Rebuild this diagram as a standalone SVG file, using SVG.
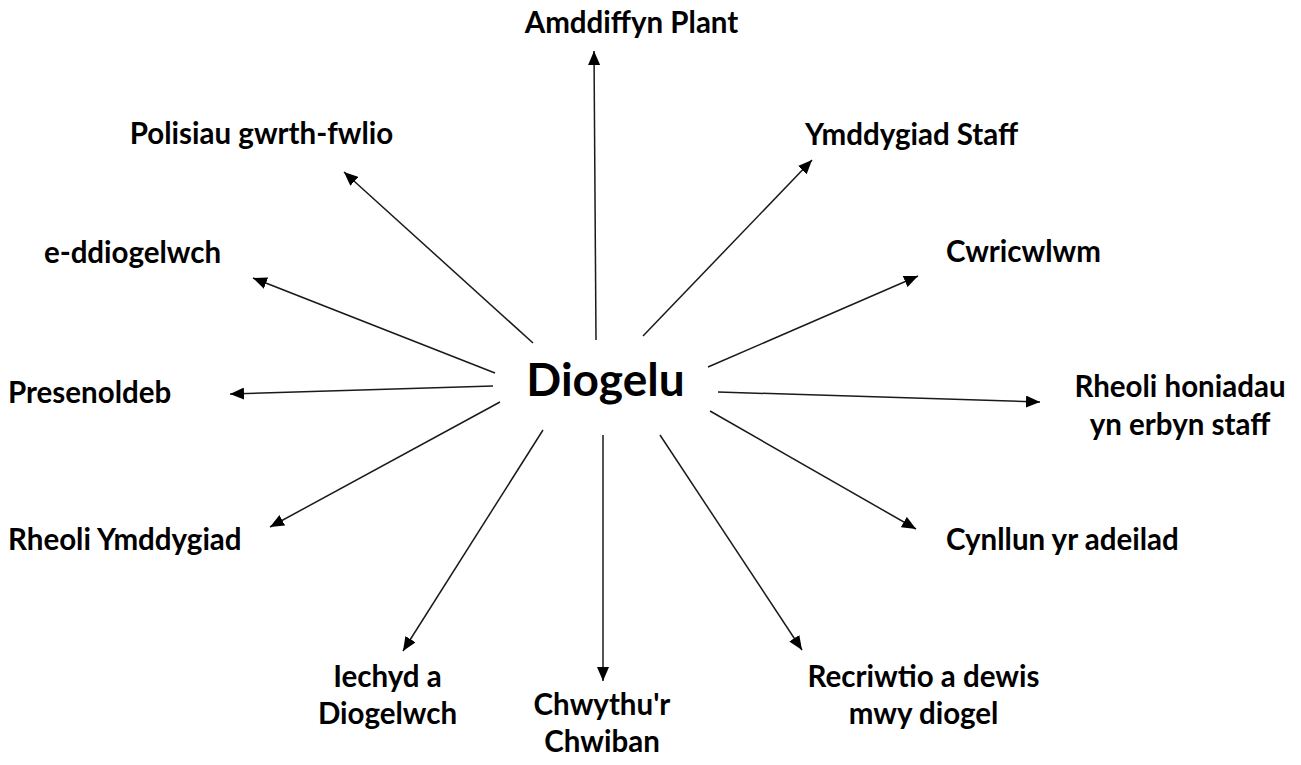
<svg xmlns="http://www.w3.org/2000/svg" width="1301" height="765" viewBox="0 0 1301 765">
<defs>
<marker id="arr" markerWidth="14" markerHeight="12" refX="14" refY="6" orient="auto" markerUnits="userSpaceOnUse">
<path d="M0,0 L14,6 L0,12 z" fill="#000"/>
</marker>
<style>
.t{font-family:Lato,"Liberation Sans",sans-serif;font-weight:bold;font-size:29.5px;fill:#000}
.c{font-family:Lato,"Liberation Sans",sans-serif;font-weight:bold;font-size:46px;fill:#000}
.l{stroke:#1a1a1a;stroke-width:1.5;fill:none;marker-end:url(#arr)}
</style>
</defs>
<rect width="1301" height="765" fill="#fff"/>
<g id="connectors">
<line class="l" x1="596" y1="340" x2="594" y2="51"/>
<line class="l" x1="533" y1="343" x2="344" y2="172"/>
<line class="l" x1="495" y1="373" x2="253" y2="278"/>
<line class="l" x1="493" y1="386" x2="230" y2="394"/>
<line class="l" x1="500" y1="402" x2="270" y2="527"/>
<line class="l" x1="543" y1="430" x2="403" y2="651"/>
<line class="l" x1="603" y1="435" x2="603" y2="681"/>
<line class="l" x1="660" y1="435" x2="802" y2="650"/>
<line class="l" x1="710" y1="411" x2="916" y2="529"/>
<line class="l" x1="718" y1="392" x2="1040" y2="402"/>
<line class="l" x1="708" y1="367" x2="918" y2="276"/>
<line class="l" x1="643" y1="336" x2="812" y2="160"/>
</g>
<g id="center"><text class="c" x="605.5" y="396" text-anchor="middle">Diogelu</text></g>
<g id="n1"><text class="t" x="631.5" y="33" text-anchor="middle">Amddiffyn Plant</text></g>
<g id="n2"><text class="t" x="261.5" y="144" text-anchor="middle">Polisiau gwrth-fwlio</text></g>
<g id="n3"><text class="t" x="132.5" y="263" text-anchor="middle">e-ddiogelwch</text></g>
<g id="n4"><text class="t" x="8" y="403">Presenoldeb</text></g>
<g id="n5"><text class="t" x="8" y="550">Rheoli Ymddygiad</text></g>
<g id="n6"><text class="t" x="387.5" y="687" text-anchor="middle">Iechyd a</text><text class="t" x="387.5" y="724" text-anchor="middle">Diogelwch</text></g>
<g id="n7"><text class="t" x="602" y="715" text-anchor="middle">Chwythu'r</text><text class="t" x="602" y="752" text-anchor="middle">Chwiban</text></g>
<g id="n8"><text class="t" x="923.5" y="687" text-anchor="middle">Recriwtio a dewis</text><text class="t" x="923.5" y="724" text-anchor="middle">mwy diogel</text></g>
<g id="n9"><text class="t" x="946" y="550">Cynllun yr adeilad</text></g>
<g id="n10"><text class="t" x="1180" y="397" text-anchor="middle">Rheoli honiadau</text><text class="t" x="1180" y="435" text-anchor="middle">yn erbyn staff</text></g>
<g id="n11"><text class="t" x="946" y="262">Cwricwlwm</text></g>
<g id="n12"><text class="t" x="805" y="145">Ymddygiad Staff</text></g>
</svg>
